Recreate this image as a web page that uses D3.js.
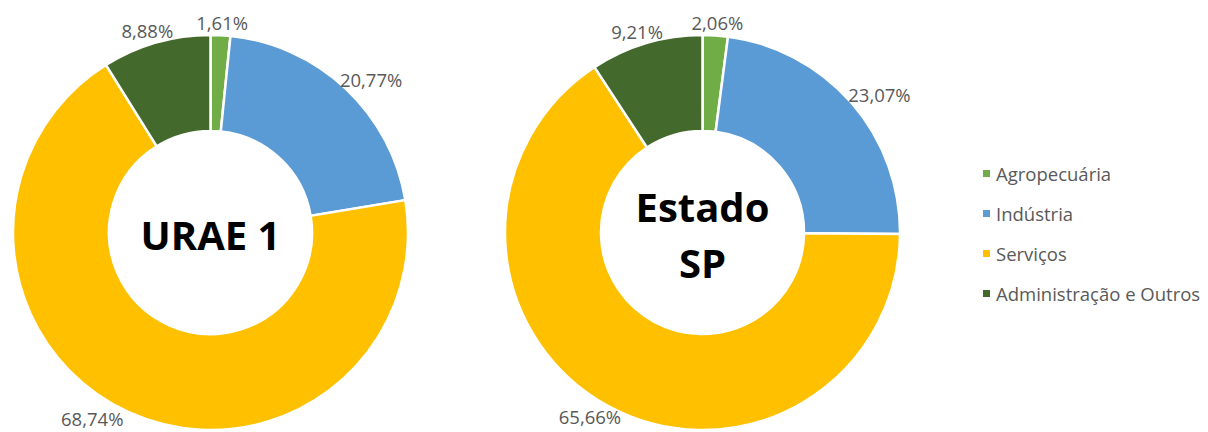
<!DOCTYPE html>
<html>
<head>
<meta charset="utf-8">
<script src="https://cdn.jsdelivr.net/npm/d3@7"></script>
<style>
  html, body { margin: 0; padding: 0; background: #ffffff; }
  svg { display: block; }
</style>
</head>
<body>
<svg id="chart" width="1208" height="432"></svg>
<script>
// Participação dos setores no valor adicionado (%)
const categories = ["Agropecuária", "Indústria", "Serviços", "Administração e Outros"];
const urae1Values = [1.61, 20.77, 68.74, 8.88];
const estadoSPValues = [2.06, 23.07, 65.66, 9.21];
const centerTitles = [["URAE 1"], ["Estado", "SP"]];
const seriesColors = ["#70AD47", "#5B9BD5", "#FFC000", "#44692C"];

const W = 1208, H = 432;
const FONT = "'Open Sans', 'Noto Sans', sans-serif";
const svg = d3.select("#chart");
svg.append("rect").attr("width", W).attr("height", H).attr("fill", "#ffffff");

const ptBR = d3.formatLocale({ decimal: ",", thousands: ".", grouping: [3], currency: ["R$", ""] });
const fmtPct = v => ptBR.format(".2f")(v) + "%";

const color = d3.scaleOrdinal().domain(categories).range(seriesColors);

// Two donuts side by side
const donuts = [
  { values: urae1Values, title: centerTitles[0] },
  { values: estadoSPValues, title: centerTitles[1] }
];
const centerX = d3.scalePoint().domain([0, 1]).range([210.5, 702.5]);
const cy = 232.5;
const outerR = 197.5;
const innerR = 101.5;

const pie = d3.pie().sort(null).value(d => d.value);
const arc = d3.arc().innerRadius(innerR).outerRadius(outerR);

donuts.forEach((dn, i) => {
  const cx = centerX(i);
  const g = svg.append("g").attr("transform", `translate(${cx},${cy})`);
  const data = pie(categories.map((c, k) => ({ cat: c, value: dn.values[k] })));

  g.selectAll("path.slice")
    .data(data)
    .join("path")
    .attr("class", "slice")
    .attr("d", arc)
    .attr("fill", d => color(d.data.cat))
    .attr("stroke", "#ffffff")
    .attr("stroke-width", 2.5)
    .attr("stroke-linejoin", "miter");

  // Value labels just outside the ring, pushed out along the slice's mid-angle;
  // a label that would run past the bottom edge is lifted and slid along the rim.
  const gap = 6;
  const halfH = 6.5;
  g.selectAll("text.val")
    .data(data)
    .join("text")
    .attr("class", "val")
    .attr("text-anchor", "middle")
    .attr("dominant-baseline", "central")
    .attr("font-family", FONT)
    .attr("font-size", 18.5)
    .attr("fill", "#595959")
    .text(d => fmtPct(d.data.value))
    .each(function (d) {
      const bb = this.getBBox();
      const maxCenterY = H - cy - bb.height / 2 - 1;
      const a = (d.startAngle + d.endAngle) / 2;
      const ux = Math.sin(a), uy = -Math.cos(a);
      let x = ux * (outerR + gap) + ux * bb.width / 2;
      let y = uy * (outerR + gap) + uy * halfH;
      if (y > maxCenterY) {
        y = maxCenterY;
        const top = y - halfH;
        const rr = outerR + 2;
        const dx = Math.sqrt(Math.max(0, rr * rr - top * top));
        x = Math.sign(ux) * (dx + bb.width / 2);
      }
      d3.select(this).attr("x", x).attr("y", y);
    });

  // Title in the hole
  const lineH = 56;
  const n = dn.title.length;
  g.selectAll("text.title")
    .data(dn.title)
    .join("text")
    .attr("class", "title")
    .attr("text-anchor", "middle")
    .attr("dominant-baseline", "central")
    .attr("font-family", FONT)
    .attr("font-weight", 700)
    .attr("font-size", 40)
    .attr("fill", "#000000")
    .attr("x", 0)
    .attr("y", (d, k) => (k - (n - 1) / 2) * lineH + 2)
    .text(d => d);
});

// Legend
const legend = svg.append("g").attr("transform", "translate(983,173.5)");
const rowY = d3.scalePoint().domain(categories).range([0, 120]);
const items = legend.selectAll("g.item")
  .data(categories)
  .join("g")
  .attr("class", "item")
  .attr("transform", d => `translate(0,${rowY(d)})`);
items.append("rect")
  .attr("x", 0).attr("y", -3.5)
  .attr("width", 7).attr("height", 7)
  .attr("fill", d => color(d));
items.append("text")
  .attr("x", 13).attr("y", 0)
  .attr("dominant-baseline", "central")
  .attr("font-family", FONT)
  .attr("font-size", 18.5)
  .attr("fill", "#595959")
  .text(d => d);
</script>
</body>
</html>
